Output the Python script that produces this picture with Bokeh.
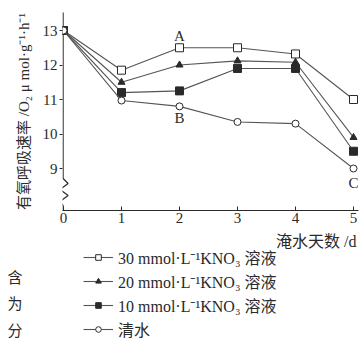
from bokeh.plotting import figure
from bokeh.layouts import column
from bokeh.models import Range1d, Label, Legend, LegendItem, FixedTicker
from bokeh.embed import file_html
from bokeh.resources import INLINE

# ---- data ----
days = [0, 1, 2, 3, 4, 5]
kno3_30 = [13.0, 11.85, 12.5, 12.5, 12.32, 11.0]
kno3_20 = [13.0, 11.5, 12.0, 12.12, 12.08, 9.9]
kno3_10 = [13.0, 11.2, 11.25, 11.9, 11.9, 9.5]
water = [13.0, 10.97, 10.8, 10.35, 10.3, 9.0]
y_ticks = [9, 10, 11, 12, 13]
series_labels = ["30 mmol·L⁻¹KNO₃ 溶液", "20 mmol·L⁻¹KNO₃ 溶液",
                 "10 mmol·L⁻¹KNO₃ 溶液", "清水"]
y_label = "有氧呼吸速率 /O₂ μ mol·g⁻¹·h⁻¹"
x_label = "淹水天数 /d"
point_labels = ["A", "B", "C"]
side_texts = ["含", "为", "分"]

SERIF = "'Liberation Serif', 'Noto Sans CJK SC', serif"
INK = "#2a2a2a"
LINE = "#555555"

# page-pixel calibration (layout only)
W = 359
TOP_H = 232
PX_X = 58.0      # px per day
PX_Y = 34.5      # px per unit
FRAME_L, FRAME_R, FRAME_T, FRAME_B = 62, 358, 12, 210
X0 = (FRAME_L - 63) / PX_X
X1 = 5 + (FRAME_R - 353) / PX_X
Y1 = 13 + (30 - FRAME_T) / PX_Y
Y0 = 13 - (FRAME_B - 30) / PX_Y


def yd(py):
    return 13 - (py - 30.0) / PX_Y


p = figure(width=W, height=TOP_H, x_range=Range1d(X0, X1), y_range=Range1d(Y0, Y1),
           output_backend="svg", toolbar_location=None,
           min_border_left=FRAME_L, min_border_right=W - FRAME_R,
           min_border_top=FRAME_T, min_border_bottom=TOP_H - FRAME_B)
p.grid.visible = False
p.outline_line_color = None

# axes
p.xaxis.ticker = FixedTicker(ticks=days)
p.yaxis.ticker = FixedTicker(ticks=y_ticks)
for ax in (p.xaxis[0], p.yaxis[0]):
    ax.major_label_text_font = SERIF
    ax.major_label_text_font_size = "15px"
    ax.major_label_text_color = INK
    ax.axis_line_color = INK
    ax.major_tick_line_color = INK
    ax.minor_tick_line_color = None
p.xaxis.major_tick_in = 4
p.xaxis.major_tick_out = 0
p.xaxis.major_label_standoff = 2
p.yaxis.major_tick_in = 0
p.yaxis.major_tick_out = 3
p.yaxis.major_label_standoff = 2
p.yaxis.axis_line_color = None
p.yaxis.axis_label = y_label
p.yaxis.axis_label_text_font = SERIF
p.yaxis.axis_label_text_font_size = "15px"
p.yaxis.axis_label_text_font_style = "normal"
p.yaxis.axis_label_text_color = INK
p.yaxis.axis_label_standoff = 8

# y axis line with break (zigzag)
ax_x = X0 + 0.6 / PX_X
zz_dx = [0, 0, 5, -3, 5, -3, 0, 0]
zz_py = [10, 178, 183, 189, 195, 201, 205, 212]
p.line([ax_x + d / PX_X for d in zz_dx], [yd(v) for v in zz_py], line_color=INK, line_width=1.2)

# series
styles = [
    dict(marker="square", size=8, fill_color="white"),
    dict(marker="triangle", size=7, fill_color=INK),
    dict(marker="square", size=8, fill_color=INK),
    dict(marker="circle", size=7, fill_color="white"),
]
all_series = [kno3_30, kno3_20, kno3_10, water]
for vals, st in zip(all_series, styles):
    p.line(days, vals, line_color=LINE, line_width=1.1)
    p.scatter(days, vals, marker=st["marker"], size=st["size"],
              fill_color=st["fill_color"], line_color=INK, line_width=1)

# point labels A, B, C
for t, x, py in zip(point_labels, [2, 2, 5], [35, 117, 182]):
    p.add_layout(Label(x=x, y=yd(py), text=t, text_font=SERIF, text_font_size="15px",
                       text_color=INK, text_align="center", text_baseline="middle"))

# ---- lower panel: axis title, legend, side text (page-pixel coordinates) ----
BOT_H = 347 - TOP_H
q = figure(width=W, height=BOT_H, x_range=Range1d(FRAME_L, FRAME_R),
           y_range=Range1d(347, TOP_H),
           output_backend="svg", toolbar_location=None,
           x_axis_location=None, y_axis_location="left",
           min_border_left=FRAME_L, min_border_right=W - FRAME_R,
           min_border_top=0, min_border_bottom=0)
q.grid.visible = False
q.outline_line_color = None

# side text fragments via the (otherwise hidden) left axis
side_y = [277, 303, 330]
q.yaxis.ticker = FixedTicker(ticks=side_y)
q.yaxis.major_label_overrides = {v: t for v, t in zip(side_y, side_texts)}
q.yaxis.axis_line_color = None
q.yaxis.major_tick_line_color = None
q.yaxis.minor_tick_line_color = None
q.yaxis.major_tick_in = 0
q.yaxis.major_tick_out = 0
q.yaxis.major_label_standoff = 40
q.yaxis.major_label_text_font = SERIF
q.yaxis.major_label_text_font_size = "15px"
q.yaxis.major_label_text_color = INK

q.add_layout(Label(x=356, y=241, text=x_label, text_font=SERIF, text_font_size="16px",
                   text_color=INK, text_align="right", text_baseline="middle"))

items = []
for vals, st, lab in zip(all_series, styles, series_labels):
    lr = q.line(days, vals, line_color=LINE, line_width=1.1)
    sr = q.scatter(days, vals, marker=st["marker"], size=st["size"],
                   fill_color=st["fill_color"], line_color=INK, line_width=1)
    items.append(LegendItem(label=lab, renderers=[lr, sr]))

legend = Legend(items=items, location=(83 - FRAME_L, 6), padding=0, margin=0,
                glyph_width=30, glyph_height=14, label_height=14, label_standoff=5,
                spacing=0, label_text_font=SERIF, label_text_font_size="16px",
                label_text_color=INK, background_fill_alpha=0, border_line_alpha=0)
q.add_layout(legend)

layout = column(p, q, spacing=0)
open("out.html", "w").write(file_html(layout, INLINE))
